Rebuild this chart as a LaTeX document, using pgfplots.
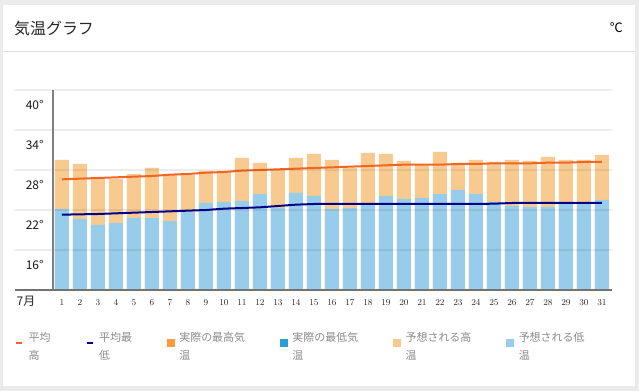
\documentclass[border=0pt]{standalone}
\usepackage{fontspec}
\setmainfont{Noto Sans CJK JP}
\usepackage{pgfplots}
\usepackage{pgfplotstable}
\pgfplotsset{compat=1.18}
\definecolor{fhigh}{HTML}{F9CA8F}
\definecolor{flow}{HTML}{97CDEB}
\definecolor{ahigh}{HTML}{FF9A3C}
\definecolor{alow}{HTML}{2A9FD6}
\definecolor{avgh}{HTML}{F26522}
\definecolor{avgl}{HTML}{00008B}
\definecolor{bgc}{HTML}{EBEBEB}
\definecolor{legtext}{HTML}{8C8C8C}
\newcommand\LE[2]{\hspace{3bp}\raisebox{5bp}{\begin{tabular}{@{}l@{}}#1\\#2\end{tabular}}}
\pgfplotstableread{
day fhigh flow avgh avgl
1 29.5 22.15 26.6 21.3
2 28.9 20.65 26.7 21.35
3 26.65 19.75 26.8 21.4
4 26.65 20.05 26.9 21.5
5 27.4 20.8 27.0 21.6
6 28.3 20.8 27.1 21.7
7 27.25 20.35 27.3 21.8
8 27.25 21.7 27.4 21.9
9 27.85 23.05 27.6 22.0
10 27.7 23.2 27.7 22.2
11 29.8 23.35 27.9 22.3
12 29.05 24.4 28.0 22.4
13 28.0 22.3 28.1 22.6
14 29.8 24.55 28.2 22.8
15 30.4 24.1 28.3 22.9
16 29.5 22.15 28.4 22.9
17 28.3 22.3 28.5 22.9
18 30.55 22.9 28.6 22.9
19 30.4 24.1 28.7 22.9
20 29.35 23.65 28.8 22.9
21 28.75 23.8 28.8 22.9
22 30.7 24.4 28.8 22.9
23 28.75 25.0 28.9 22.9
24 29.5 24.4 28.9 22.9
25 29.2 23.2 29.0 22.95
26 29.5 22.6 29.0 23.05
27 29.35 22.45 29.0 23.05
28 29.95 22.45 29.1 23.05
29 29.5 22.9 29.1 23.05
30 29.5 22.9 29.2 23.05
31 30.25 23.5 29.2 23.05
}\temps
\begin{document}
\begin{tikzpicture}
\useasboundingbox (0bp,0bp) rectangle (639bp,391bp);
\fill[bgc] (0bp,0bp) rectangle (639bp,391bp);
\fill[white] (3bp,5bp) rectangle (635bp,386bp);
\draw[black!13, line width=1bp] (3bp,339bp) -- (635bp,339bp);
\node[anchor=west, inner sep=0pt, text=black!85, font=\fontsize{16}{19}\selectfont] at (14bp,363bp) {気温グラフ};
\node[anchor=east, inner sep=0pt, font=\fontsize{13}{16}\selectfont] at (623bp,363bp) {℃};
\node[anchor=center, inner sep=0pt, text=black!85, font=\fontsize{12}{14}\selectfont] at (26bp,90bp) {7月};
\begin{axis}[
  at={(15bp,101bp)}, anchor=south west, scale only axis,
  width=597bp, height=200bp,
  xmin=-1.61, xmax=31.56, ymin=10, ymax=40,
  axis line style={draw=none},
  major tick length=0pt,
  xtick={1,...,31},
  xticklabel style={font=\fontsize{9}{10}\selectfont, text=black!85, yshift=-6bp},
  ytick={16,22,28,34,40},
  yticklabels={16°,22°,28°,34°,40°},
  yticklabel style={anchor=east, xshift=32bp, yshift=-15bp, text=black!90, font=\fontsize{12}{14}\selectfont},
  ymajorgrids,
  major grid style={black, opacity=0.07, line width=2bp},
  extra x ticks={0.5}, extra x tick labels={},
  extra x tick style={grid=major, major grid style={black!50, opacity=1, line width=2bp}},
  extra y ticks={10}, extra y tick labels={},
  extra y tick style={grid=major, major grid style={black!55, opacity=1, line width=2bp}},
  axis on top,
  legend columns=6,
  legend cell align=left,
  legend style={at={(0,-0.265)}, anchor=west, draw=none, fill=none, inner sep=0pt,
    font=\fontsize{11}{18}\selectfont\color{legtext},
    /tikz/every even column/.append style={column sep=33bp}},
]
\addplot[ybar, bar width=14bp, bar shift=0pt, fill=fhigh, draw=none, forget plot] table[x=day, y=fhigh] {\temps};
\addplot[ybar, bar width=14bp, bar shift=0pt, fill=flow, draw=none, forget plot] table[x=day, y=flow] {\temps};
\addplot[avgh, line width=2bp, no marks, forget plot] table[x=day, y=avgh] {\temps};
\addplot[avgl, line width=2bp, no marks, forget plot] table[x=day, y=avgl] {\temps};
\addlegendimage{legend image code/.code={\draw[avgh, line width=2.5bp] (0bp,0bp) -- (6bp,0bp);}}
\addlegendentry{\LE{平均}{高}}
\addlegendimage{legend image code/.code={\draw[avgl, line width=2.5bp] (0bp,0bp) -- (6bp,0bp);}}
\addlegendentry{\LE{平均最}{低}}
\addlegendimage{legend image code/.code={\fill[ahigh] (0bp,-3.5bp) rectangle (7bp,3.5bp);}}
\addlegendentry{\LE{実際の最高気}{温}}
\addlegendimage{legend image code/.code={\fill[alow] (0bp,-3.5bp) rectangle (7bp,3.5bp);}}
\addlegendentry{\LE{実際の最低気}{温}}
\addlegendimage{legend image code/.code={\fill[fhigh] (0bp,-3.5bp) rectangle (7bp,3.5bp);}}
\addlegendentry{\LE{予想される高}{温}}
\addlegendimage{legend image code/.code={\fill[flow] (0bp,-3.5bp) rectangle (7bp,3.5bp);}}
\addlegendentry{\LE{予想される低}{温}}
\end{axis}
\end{tikzpicture}
\end{document}
